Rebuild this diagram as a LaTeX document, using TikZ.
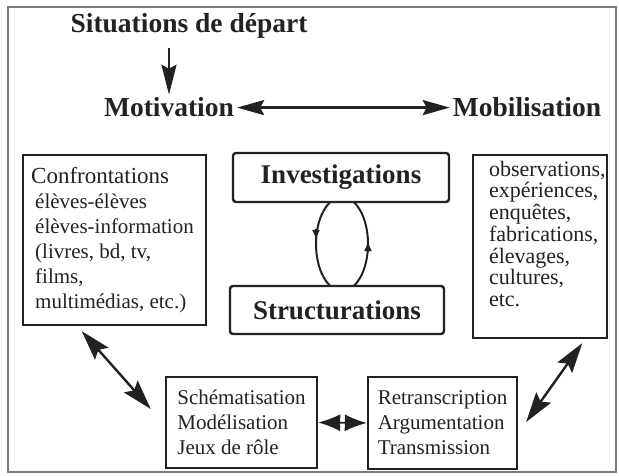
\documentclass[tikz,border=0pt]{standalone}
\usepackage{fontspec}
\setmainfont{Liberation Serif}
\usetikzlibrary{arrows.meta,calc,positioning}
\definecolor{ink}{HTML}{222222}
\definecolor{rule}{HTML}{7A7A7A}
\tikzset{headtxt/.style={font=\fontsize{27.5}{30}\selectfont\bfseries,text=ink,inner sep=3pt}, boxtxt/.style={draw=ink,line width=2.4pt,fill=white,font=\fontsize{21}{25}\selectfont,text=ink,align=left,inner sep=4pt}, stagebox/.style={draw=ink,line width=2.4pt,fill=white,rounded corners=3pt,font=\fontsize{27}{30}\selectfont\bfseries,text=ink}, linkarrow/.style={draw=ink,line width=2.4pt,<->}, looppath/.style={draw=ink,line width=2pt}, looptip/.style={draw=ink,line width=2pt,-{Latex[length=10pt,width=8pt]}}}

\begin{document}
\begin{tikzpicture}[x=1pt,y=-1pt,>={Stealth[length=30pt,width=18pt,inset=5pt]}]
\useasboundingbox (0,0) rectangle (619,476);
\draw[rule,line width=1.3pt] (8,7) rectangle (616,472);
\node[headtxt,anchor=base] (sit) at (189,33) {Situations de départ};
\node[headtxt,anchor=base] (mot) at (169,117) {Motivation};
\node[headtxt,anchor=base] (mob) at (527,117) {Mobilisation};
\draw[linkarrow,-{Stealth[length=30pt,width=15pt,inset=4pt]},shorten <=6pt] (mot.north |- sit.south) -- (mot.north);
\draw[linkarrow,{Stealth[length=27pt,width=15pt,inset=4pt]}-{Stealth[length=27pt,width=15pt,inset=4pt]}] (mot.east) -- (mob.west);
\draw[looppath] (342,244) ellipse [x radius=26, y radius=47];
\draw[looptip] (316,229) -- (316,240);
\draw[looptip] (368,252) -- (368,241);
\node[stagebox,minimum width=216pt,minimum height=49pt] (inv) at (341,177.5) {Investigations};
\node[stagebox,minimum width=214pt,minimum height=48pt] (struc) at (337,310) {Structurations};
\node[boxtxt,minimum width=183pt,minimum height=170pt] (conf) at (114.5,240) {\hspace*{-4pt}{\fontsize{23}{25}\selectfont Confrontations}\\élèves-élèves\\élèves-information\\(livres, bd, tv,\\films,\\multimédias, etc.)};
\node[boxtxt,minimum width=134pt,minimum height=183pt] (act) at (540,246.5) {};
\node[font=\fontsize{22}{21.7}\selectfont,text=ink,align=left,inner sep=0pt,anchor=north west] (acttxt) at ([xshift=17pt,yshift=-7pt]act.north west) {observations,\\expériences,\\enquêtes,\\fabrications,\\élevages,\\cultures,\\etc.};
\node[boxtxt,minimum width=151pt,minimum height=91pt] (schem) at (241.5,422.5) {Schématisation\\Modélisation\\Jeux de rôle};
\node[boxtxt,minimum width=149pt,minimum height=92pt] (retr) at (442.5,423) {Retranscription\\Argumentation\\Transmission};
\draw[linkarrow] ([xshift=60pt,yshift=-5pt]conf.south west) -- ([xshift=-14pt,yshift=13.5pt]schem.west);
\draw[linkarrow,line width=1.6pt,{Latex[length=22pt,width=17pt]}-{Latex[length=22pt,width=17pt]}] (schem.east) -- (retr.west);
\draw[linkarrow] ([xshift=-26pt,yshift=-4pt]act.south east) -- ([xshift=8pt,yshift=1pt]retr.east);
\end{tikzpicture}
\end{document}
